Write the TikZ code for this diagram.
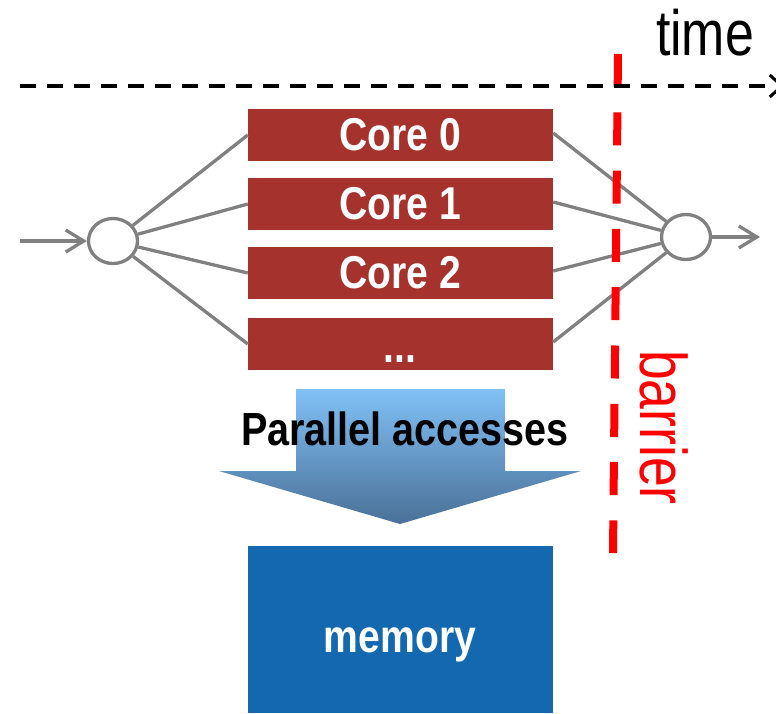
\documentclass[tikz,border=0pt]{standalone}
\usepackage{fontspec}
\usetikzlibrary{arrows.meta,shapes.geometric}
\newfontfamily\thinsans[FakeStretch=0.81]{Liberation Sans}
\newfontfamily\boldsans[FakeStretch=0.85]{Liberation Sans}
\definecolor{corered}{RGB}{166,50,46}
\definecolor{wiregray}{RGB}{128,128,128}
\definecolor{memblue}{RGB}{19,104,176}
\definecolor{arrowtop}{RGB}{128,193,246}
\definecolor{arrowbot}{RGB}{74,112,151}
\tikzset{
  corebox/.style={rectangle, fill=corered, minimum width=305pt, minimum height=52pt,
    inner sep=0pt, text=white, font=\boldsans\bfseries\fontsize{46}{50}\selectfont},
  joint/.style={ellipse, draw=wiregray, line width=3.3pt, minimum width=49pt,
    minimum height=45pt, inner sep=0pt},
  wire/.style={draw=wiregray, line width=3.3pt},
  wirearrow/.style={wire, -{Straight Barb[length=18pt,width=22pt,line width=3.3pt]}},
}
\begin{document}
\begin{tikzpicture}[x=1pt,y=-1pt]
\useasboundingbox (0,0) rectangle (776,713);

% cores
\node[corebox] (c0) at (400.5,135) {Core 0};
\node[corebox] (c1) at (400.5,204) {Core 1};
\node[corebox] (c2) at (400.5,273) {Core 2};
\node[corebox] (c3) at (400.5,344) {};
\node[anchor=base, inner sep=0pt, text=white,
  font=\boldsans\bfseries\fontsize{46}{50}\selectfont] (dots) at (400,362) {...};

% fork and join
\node[joint] (fork) at (113,241) {};
\node[joint] (join) at (686,237) {};
\coordinate (inp) at (20,241);
\coordinate (outp) at (760,237);
\draw[wirearrow] (inp) -- (fork);
\draw[wirearrow] (join) -- (outp);
\foreach \c in {c0,c1,c2,c3}{
  \draw[wire] (fork) -- (\c.west);
  \draw[wire] ([yshift=2pt]\c.east) -- (join);
}

% access arrow towards memory
\shade[top color=arrowtop, bottom color=arrowbot]
  (296,389) -- (505,389) -- (505,471) -- (581,471) -- (400,524)
  -- (219,471) -- (296,471) -- cycle;
\node[anchor=base, inner sep=0pt,
  font=\boldsans\bfseries\fontsize{46.5}{50}\selectfont] (acc) at (405,445) {Parallel accesses};

% memory
\node[rectangle, fill=memblue, minimum width=305pt, minimum height=167pt,
  inner sep=0pt] (mem) at (400.5,629.5) {};
\node[anchor=base, inner sep=0pt, text=white,
  font=\boldsans\bfseries\fontsize{46}{50}\selectfont] (memlabel) at (400,652) {memory};

% barrier
\coordinate (bartop) at (618,54);
\coordinate (barbot) at (613,553);
\draw[red, line width=8pt, dash pattern=on 33pt off 25.3pt] (bartop) -- (barbot);
\node[anchor=base west, rotate=-90, inner sep=0pt, text=red,
  font=\thinsans\fontsize{66}{70}\selectfont] (barlabel) at (640,350) {barrier};

% time axis
\coordinate (tstart) at (20,86);
\coordinate (tend) at (784,86);
\draw[black, line width=3.5pt, dash pattern=on 16pt off 11pt,
  -{Straight Barb[length=12pt,width=22pt,line width=3pt]}] (tstart) -- (tend);
\node[anchor=base, inner sep=0pt, font=\thinsans\fontsize{64}{70}\selectfont]
  (timelabel) at (705,55) {time};
\end{tikzpicture}
\end{document}
